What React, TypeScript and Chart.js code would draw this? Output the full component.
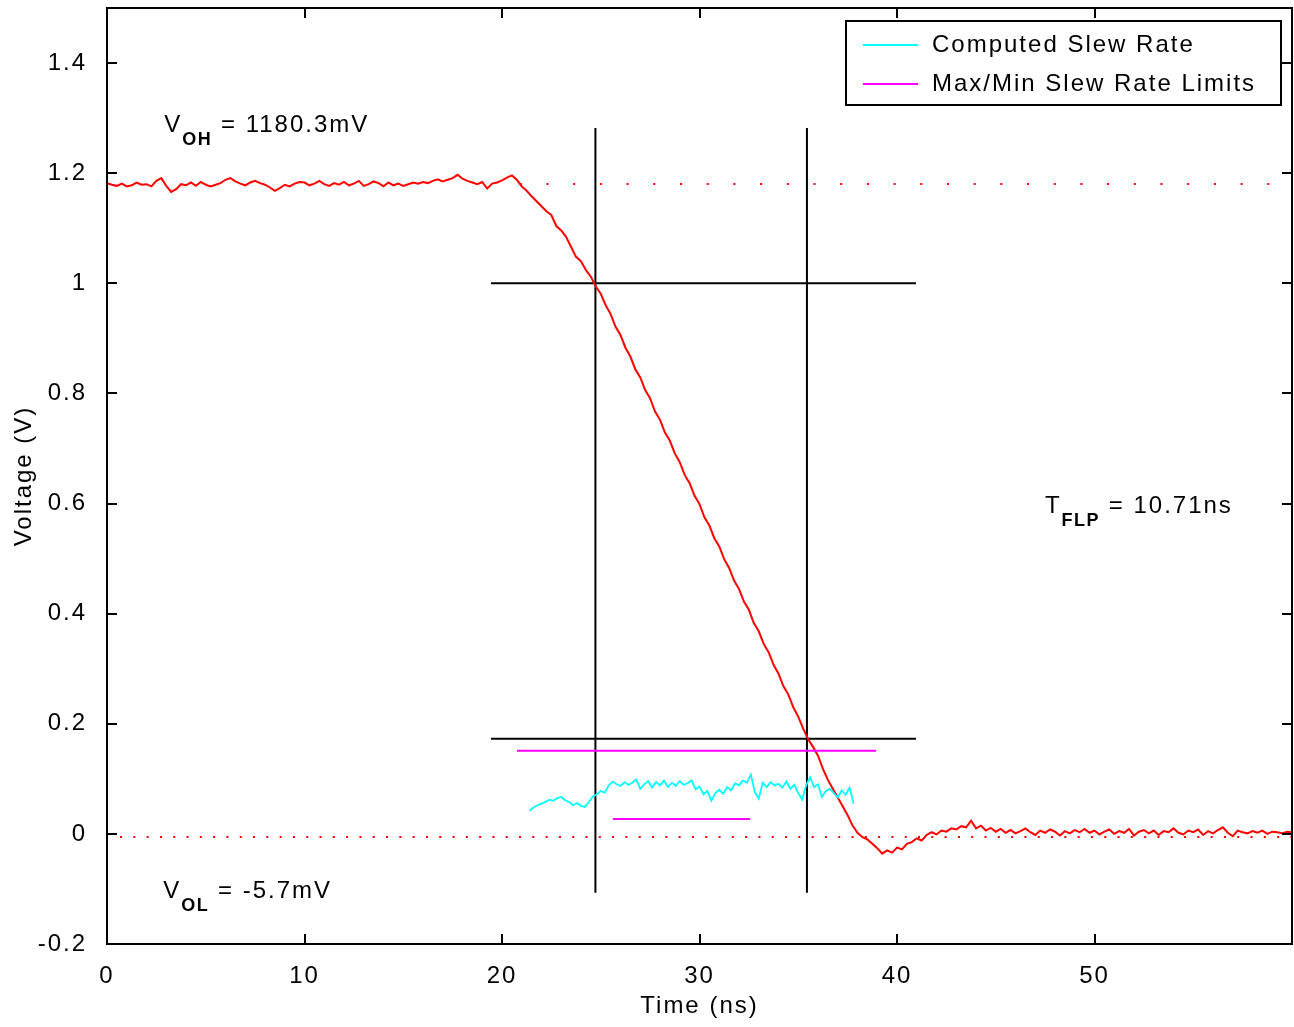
import React, { useEffect, useRef } from 'react';
import { Chart, registerables } from 'chart.js';

Chart.register(...registerables);

const FONT = '"Liberation Sans", Arial, Helvetica, sans-serif';
const SPACING = '2px';

// ---- axis definitions ----
const X_MIN = 0;
const X_MAX = 60;
const X_STEP = 10;
const Y_MIN = -0.2;
const Y_MAX = 1.5;
const Y_STEP = 0.2;
const X_TITLE = 'Time (ns)';
const Y_TITLE = 'Voltage (V)';

// ---- measured waveform (red), sampled every 0.25 ns from 0 ns ----
const WAVE_T0 = 0;
const WAVE_DT = 0.25;
const waveVolts = [
  1.182, 1.179, 1.177, 1.181, 1.176, 1.178, 1.183, 1.179, 1.180, 1.176, 1.186, 1.191, 1.177, 1.166, 1.171, 1.180, 1.178, 1.183, 1.177, 1.184,
  1.179, 1.176, 1.179, 1.182, 1.188, 1.191, 1.185, 1.181, 1.178, 1.183, 1.186, 1.182, 1.179, 1.174, 1.168, 1.173, 1.179, 1.176, 1.181, 1.184,
  1.183, 1.178, 1.181, 1.186, 1.180, 1.177, 1.182, 1.179, 1.184, 1.178, 1.181, 1.186, 1.177, 1.180, 1.185, 1.182, 1.176, 1.183, 1.178, 1.181,
  1.177, 1.180, 1.183, 1.181, 1.184, 1.182, 1.186, 1.189, 1.185, 1.188, 1.191, 1.197, 1.190, 1.186, 1.183, 1.180, 1.184, 1.172, 1.181, 1.183,
  1.187, 1.192, 1.196, 1.188, 1.176, 1.168, 1.158, 1.149, 1.140, 1.131, 1.124, 1.104, 1.096, 1.084, 1.066, 1.048, 1.040, 1.024, 1.012, 0.994,
  0.981, 0.960, 0.944, 0.921, 0.906, 0.883, 0.867, 0.844, 0.829, 0.806, 0.791, 0.767, 0.752, 0.729, 0.714, 0.691, 0.675, 0.652, 0.637, 0.614,
  0.599, 0.575, 0.560, 0.537, 0.522, 0.499, 0.483, 0.460, 0.445, 0.422, 0.407, 0.383, 0.368, 0.345, 0.330, 0.307, 0.291, 0.268, 0.253, 0.230,
  0.213, 0.191, 0.172, 0.158, 0.142, 0.118, 0.098, 0.082, 0.066, 0.050, 0.034, 0.015, 0.002, -0.006, -0.010, -0.018, -0.026, -0.036, -0.030, -0.034,
  -0.025, -0.028, -0.018, -0.015, -0.008, -0.012, -0.002, 0.003, -0.001, 0.006, 0.004, 0.010, 0.008, 0.014, 0.012, 0.024, 0.010, 0.015, 0.006, 0.011,
  0.004, 0.009, 0.002, 0.007, 0.001, 0.005, 0.010, 0.003, -0.002, 0.006, 0.002, 0.008, 0.004, -0.003, 0.005, 0.001, 0.007, 0.003, 0.009, 0.002,
  0.006, -0.001, 0.004, 0.008, 0.000, 0.005, 0.002, 0.009, -0.003, 0.004, 0.007, 0.001, 0.006, -0.002, 0.005, 0.003, 0.010, 0.002, -0.001, 0.006,
  0.003, 0.008, -0.002, 0.005, 0.001, 0.007, 0.012, 0.002, -0.004, 0.006, 0.003, 0.001, 0.005, 0.002, 0.006, 0.000, 0.004, 0.003, 0.001, 0.004,
  0.003,
];

// ---- computed slew rate (cyan), sampled every 0.2 ns from 21.4 ns ----
const SLEW_T0 = 21.4;
const SLEW_DT = 0.2;
const slewValues = [
  0.042, 0.048, 0.052, 0.055, 0.058, 0.062, 0.060, 0.065, 0.067, 0.061,
  0.058, 0.052, 0.056, 0.051, 0.049, 0.058, 0.068, 0.072, 0.078, 0.075,
  0.088, 0.095, 0.090, 0.087, 0.094, 0.089, 0.093, 0.099, 0.082, 0.090,
  0.096, 0.084, 0.094, 0.088, 0.097, 0.085, 0.093, 0.087, 0.096, 0.089,
  0.092, 0.097, 0.081, 0.086, 0.072, 0.078, 0.060, 0.074, 0.080, 0.073,
  0.085, 0.079, 0.092, 0.088, 0.097, 0.093, 0.108, 0.076, 0.064, 0.093,
  0.085, 0.094, 0.088, 0.091, 0.084, 0.095, 0.082, 0.089, 0.074, 0.062,
  0.088, 0.103, 0.085, 0.090, 0.067, 0.078, 0.082, 0.074, 0.066, 0.079,
  0.071, 0.084, 0.055,
];

// ---- levels and cursors ----
const V_OH = 1.1803;
const V_OL = -0.0057;
const VOH_LINE_START = 20.9;
const VOL_LINE_START = 0.66;
const CURSOR_TIMES = [24.73, 35.44];
const CURSOR_V_RANGE = [-0.107, 1.282];
const CURSOR_LEVELS = [1.0, 0.173];
const CURSOR_T_RANGE = [19.44, 40.96];
const LIMIT_MAX = { v: 0.151, t: [20.76, 38.94] };
const LIMIT_MIN = { v: 0.027, t: [25.62, 32.56] };

// ---- legend and annotations ----
const LEGEND_SLEW = 'Computed Slew Rate';
const LEGEND_LIMITS = 'Max/Min Slew Rate Limits';
const ANNOTATIONS = [
  { main: 'V', sub: 'OH', rest: ' = 1180.3mV', x: 2.9, y: 1.2745 },
  { main: 'V', sub: 'OL', rest: ' = -5.7mV', x: 2.85, y: -0.1164 },
  { main: 'T', sub: 'FLP', rest: ' = 10.71ns', x: 47.49, y: 0.5828 },
];

const RED = '#ff0000';
const CYAN = '#00ffff';
const MAGENTA = '#ff00ff';
const BLACK = '#000000';

function seg(x0: number, y0: number, x1: number, y1: number) {
  return [
    { x: x0, y: y0 },
    { x: x1, y: y1 },
  ];
}

const framePlugin = {
  id: 'matlabFrame',
  beforeUpdate(chart: any) {
    chart.ctx.letterSpacing = SPACING;
  },
  beforeDraw(chart: any) {
    const ctx = chart.ctx;
    ctx.letterSpacing = SPACING;
    ctx.save();
    ctx.fillStyle = '#ffffff';
    ctx.fillRect(0, 0, chart.width, chart.height);
    ctx.restore();
  },
  afterDatasetsDraw(chart: any) {
    const ctx = chart.ctx;
    const { left, right, top, bottom } = chart.chartArea;
    const xs = chart.scales.x;
    const ys = chart.scales.y;
    ctx.save();
    ctx.strokeStyle = BLACK;
    ctx.lineWidth = 2;
    ctx.beginPath();
    const TL = 10;
    xs.ticks.forEach((t: any) => {
      const px = Math.round(xs.getPixelForValue(t.value));
      ctx.moveTo(px, bottom);
      ctx.lineTo(px, bottom - TL);
      ctx.moveTo(px, top);
      ctx.lineTo(px, top + TL);
    });
    ys.ticks.forEach((t: any) => {
      const py = Math.round(ys.getPixelForValue(t.value));
      ctx.moveTo(left, py);
      ctx.lineTo(left + TL, py);
      ctx.moveTo(right, py);
      ctx.lineTo(right - TL, py);
    });
    ctx.stroke();
    ctx.strokeRect(left, top, right - left, bottom - top);

    // annotations
    ctx.fillStyle = BLACK;
    ctx.textBaseline = 'alphabetic';
    ctx.textAlign = 'left';
    ANNOTATIONS.forEach((a) => {
      let x = xs.getPixelForValue(a.x);
      const y = ys.getPixelForValue(a.y);
      ctx.letterSpacing = SPACING;
      ctx.font = `24px ${FONT}`;
      ctx.fillText(a.main, x, y);
      x += ctx.measureText(a.main).width;
      ctx.font = `bold 18px ${FONT}`;
      ctx.letterSpacing = '1.5px';
      ctx.fillText(a.sub, x, y + 13);
      x += ctx.measureText(a.sub).width;
      ctx.letterSpacing = SPACING;
      ctx.font = `24px ${FONT}`;
      ctx.fillText(a.rest, x, y);
    });

    // legend
    const entries = chart.data.datasets.filter((d: any) => d.inLegend);
    const bw = 435;
    const bh = 84;
    const bx = right - 11 - bw;
    const by = top + 13;
    ctx.fillStyle = '#ffffff';
    ctx.fillRect(bx, by, bw, bh);
    ctx.strokeStyle = BLACK;
    ctx.lineWidth = 2;
    ctx.strokeRect(bx, by, bw, bh);
    ctx.font = `24px ${FONT}`;
    ctx.textBaseline = 'middle';
    ctx.letterSpacing = SPACING;
    entries.forEach((d: any, i: number) => {
      const ly = by + 24 + i * 39;
      ctx.strokeStyle = d.borderColor;
      ctx.lineWidth = 2;
      ctx.beginPath();
      ctx.moveTo(bx + 17, ly);
      ctx.lineTo(bx + 72, ly);
      ctx.stroke();
      ctx.fillStyle = BLACK;
      ctx.fillText(d.label, bx + 86, ly);
    });
    ctx.restore();
  },
};

export default function App() {
  const ref = useRef<HTMLCanvasElement>(null);

  useEffect(() => {
    document.body.style.margin = '0';
    const canvas = ref.current!;
    const wave = waveVolts.map((v, i) => ({ x: WAVE_T0 + i * WAVE_DT, y: v }));
    const slew = slewValues.map((v, i) => ({ x: SLEW_T0 + i * SLEW_DT, y: v }));

    const base = { pointRadius: 0, pointHoverRadius: 0, tension: 0, fill: false };

    const datasets: any[] = [
      { ...base, label: LEGEND_SLEW, inLegend: true, data: slew, borderColor: CYAN, borderWidth: 1.8 },
      { ...base, label: LEGEND_LIMITS, inLegend: true, data: seg(LIMIT_MAX.t[0], LIMIT_MAX.v, LIMIT_MAX.t[1], LIMIT_MAX.v), borderColor: MAGENTA, borderWidth: 2 },
      { ...base, label: 'Min limit', data: seg(LIMIT_MIN.t[0], LIMIT_MIN.v, LIMIT_MIN.t[1], LIMIT_MIN.v), borderColor: MAGENTA, borderWidth: 2 },
      { ...base, label: 'Waveform', data: wave, borderColor: RED, borderWidth: 2 },
      ...CURSOR_TIMES.map((t) => ({ ...base, label: 'cursor', data: seg(t, CURSOR_V_RANGE[0], t, CURSOR_V_RANGE[1]), borderColor: BLACK, borderWidth: 2 })),
      ...CURSOR_LEVELS.map((v) => ({ ...base, label: 'level', data: seg(CURSOR_T_RANGE[0], v, CURSOR_T_RANGE[1], v), borderColor: BLACK, borderWidth: 2 })),
      { ...base, label: 'VOH', data: seg(VOH_LINE_START, V_OH, X_MAX, V_OH), borderColor: RED, borderWidth: 2, borderDash: [2, 24.7] },
      { ...base, label: 'VOL', data: seg(VOL_LINE_START, V_OL, X_MAX, V_OL), borderColor: RED, borderWidth: 2, borderDash: [2, 11.3] },
    ];

    const tickFont = { family: FONT, size: 24 };

    const chart = new Chart(canvas, {
      type: 'line',
      data: { datasets },
      plugins: [framePlugin],
      options: {
        animation: false,
        responsive: false,
        maintainAspectRatio: false,
        devicePixelRatio: 1,
        layout: { padding: { top: 8, right: 2, left: 0, bottom: 0 } },
        plugins: { legend: { display: false }, tooltip: { enabled: false } },
        events: [],
        scales: {
          x: {
            type: 'linear',
            min: X_MIN,
            max: X_MAX,
            grid: { display: false },
            border: { display: false },
            ticks: {
              stepSize: X_STEP,
              font: tickFont,
              color: BLACK,
              padding: 10,
              maxRotation: 0,
              autoSkip: false,
              includeBounds: false,
              callback: (v: any) => String(Math.round(Number(v))),
            },
            title: { display: true, text: X_TITLE, font: tickFont, color: BLACK, padding: { top: 0, bottom: 6 } },
            afterBuildTicks: (s: any) => {
              s.ticks = s.ticks.filter((t: any) => t.value < X_MAX - 1e-6);
            },
            afterFit: (s: any) => {
              s.height = 83;
              s.paddingLeft = 0;
              s.paddingRight = 0;
            },
          },
          y: {
            type: 'linear',
            min: Y_MIN,
            max: Y_MAX,
            grid: { display: false },
            border: { display: false },
            ticks: {
              stepSize: Y_STEP,
              font: tickFont,
              color: BLACK,
              padding: 12,
              includeBounds: false,
              callback: (v: any) => String(Math.round(Number(v) * 10) / 10),
            },
            title: { display: true, text: Y_TITLE, font: tickFont, color: BLACK, padding: { top: 10, bottom: 0 } },
            afterFit: (s: any) => {
              s.width = 107;
              s.paddingTop = 0;
              s.paddingBottom = 0;
            },
          },
        },
      } as any,
    });

    return () => chart.destroy();
  }, []);

  return (
    <div style={{ width: 1294, height: 1027 }}>
      <canvas ref={ref} width={1294} height={1027} style={{ display: 'block', width: 1294, height: 1027 }} />
    </div>
  );
}
